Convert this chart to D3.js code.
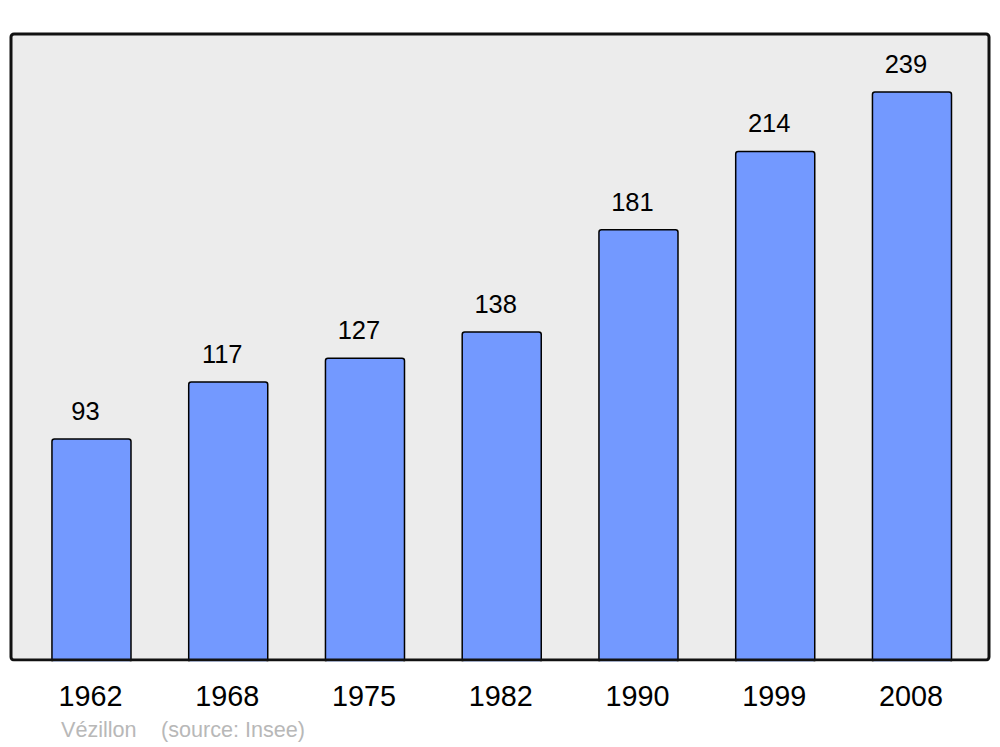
<!DOCTYPE html>
<html>
<head>
<meta charset="utf-8">
<script src="https://cdn.jsdelivr.net/npm/d3@7"></script>
<style>
  html, body { margin: 0; padding: 0; background: #fff; }
  svg { display: block; font-family: "Liberation Sans", Arial, sans-serif; }
</style>
</head>
<body>
<div id="chart"></div>
<script>
// population by census year
const years = ['1962', '1968', '1975', '1982', '1990', '1999', '2008']
const population = [93, 117, 127, 138, 181, 214, 239]
const credit = 'Vézillon'
const source = '(source: Insee)'

const W = 1000, H = 747
const frame = { left: 11, top: 34, right: 989, bottom: 660 }

const svg = d3.select('#chart').append('svg').attr('width', W).attr('height', H)

const x = d3.scaleBand()
  .domain(years)
  .range([23.1, 980.35])
  .paddingInner(0.422)
  .paddingOuter(0.211)

const y = d3.scaleLinear()
  .domain([0, 263.4])
  .range([frame.bottom, frame.top])

// plot frame
svg.append('rect')
  .attr('x', frame.left).attr('y', frame.top)
  .attr('width', frame.right - frame.left).attr('height', frame.bottom - frame.top)
  .attr('rx', 3).attr('ry', 3)
  .attr('fill', '#ececec')

const data = years.map((yr, i) => ({ year: yr, value: population[i] }))

svg.append('g').selectAll('rect').data(data).join('rect')
  .attr('x', d => x(d.year))
  .attr('y', d => y(d.value))
  .attr('width', x.bandwidth())
  .attr('height', d => y(0) - y(d.value) + 3)
  .attr('rx', 2.5).attr('ry', 2.5)
  .attr('fill', '#7399ff')
  .attr('stroke', '#000')
  .attr('stroke-width', 1.5)

// frame border drawn on top so it covers bar bottoms
svg.append('rect')
  .attr('x', frame.left).attr('y', frame.top)
  .attr('width', frame.right - frame.left).attr('height', frame.bottom - frame.top)
  .attr('rx', 3).attr('ry', 3)
  .attr('fill', 'none')
  .attr('stroke', '#111')
  .attr('stroke-width', 3)

// hide the bar overflow below the frame
svg.append('rect')
  .attr('x', 0).attr('y', frame.bottom + 1.5)
  .attr('width', W).attr('height', 6)
  .attr('fill', '#fff')

// value labels
svg.append('g').selectAll('text').data(data).join('text')
  .attr('x', d => x(d.year) + x.bandwidth() / 2 - 6)
  .attr('y', d => y(d.value) - 19)
  .attr('text-anchor', 'middle')
  .attr('font-size', 25.5)
  .attr('fill', '#000')
  .text(d => d.value)

// year labels
const xAxis = d3.axisBottom(x).tickSize(0).tickPadding(0)
const axisG = svg.append('g')
  .attr('transform', `translate(0,${frame.bottom})`)
  .call(xAxis)
axisG.select('.domain').remove()
axisG.selectAll('.tick text')
  .attr('dy', null)
  .attr('x', -1)
  .attr('y', 45.5)
  .attr('font-size', 28.8)
  .attr('font-family', '"Liberation Sans", Arial, sans-serif')
  .attr('fill', '#000')

svg.append('text')
  .attr('x', 61).attr('y', 737)
  .attr('font-size', 21.6)
  .attr('fill', '#b8b8b8')
  .text(credit)

svg.append('text')
  .attr('x', 161).attr('y', 737)
  .attr('font-size', 21.6)
  .attr('fill', '#b8b8b8')
  .text(source)
</script>
</body>
</html>
